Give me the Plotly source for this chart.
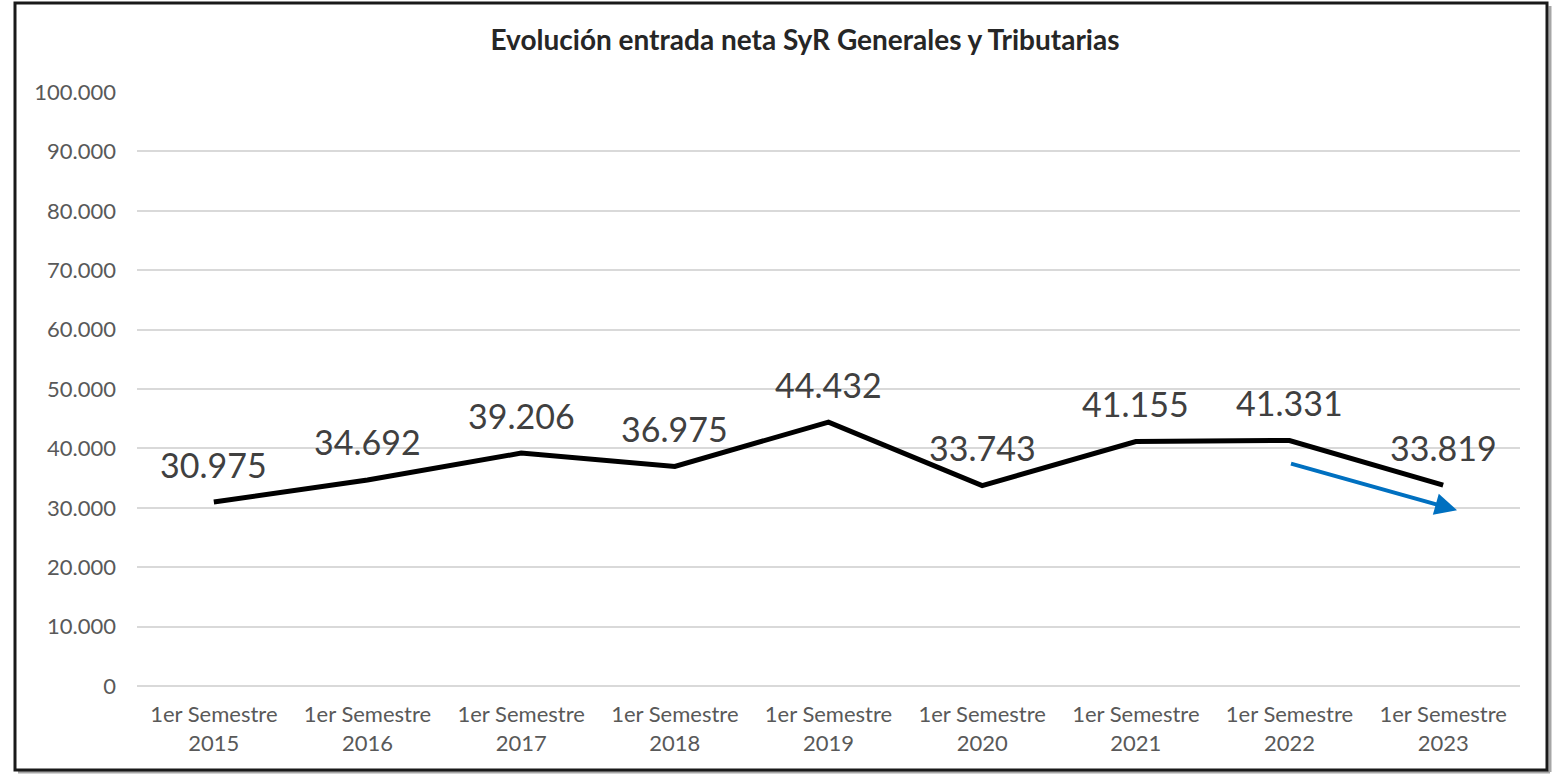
import plotly.graph_objects as go

# Datos
semestres = ["1er Semestre<br>2015", "1er Semestre<br>2016", "1er Semestre<br>2017",
             "1er Semestre<br>2018", "1er Semestre<br>2019", "1er Semestre<br>2020",
             "1er Semestre<br>2021", "1er Semestre<br>2022", "1er Semestre<br>2023"]
entrada_neta = [30975, 34692, 39206, 36975, 44432, 33743, 41155, 41331, 33819]
y_ticks = [0, 10000, 20000, 30000, 40000, 50000, 60000, 70000, 80000, 90000, 100000]

# Flecha de tendencia (coordenadas de eje)
flecha_inicio = (7.0, 37500)
flecha_fin = (8.09, 29600)

W, H = 1554, 774
ml, mr, mt, mb = 137, 34, 92, 88
pw, ph = W - ml - mr, H - mt - mb


def px_x(p):
    return (p - ml) / pw


def px_y(p):
    return (H - mb - p) / ph


fig = go.Figure()

fig.add_trace(go.Scatter(
    x=list(range(len(semestres))),
    y=entrada_neta,
    mode="lines",
    line=dict(color="black", width=5),
    hoverinfo="skip",
    showlegend=False,
))

# Etiquetas de datos
for i, v in enumerate(entrada_neta):
    fig.add_annotation(
        x=i, y=v, text=f"{v:,}".replace(",", "."),
        showarrow=False, yshift=38,
        font=dict(family="Lato", size=34, color="#404040"),
    )

# Flecha azul
fig.add_annotation(
    x=flecha_fin[0], y=flecha_fin[1],
    ax=flecha_inicio[0], ay=flecha_inicio[1],
    xref="x", yref="y", axref="x", ayref="y",
    text="", showarrow=True,
    arrowhead=2, arrowsize=1.1, arrowwidth=4, arrowcolor="#0070C0",
)

# Marco del gráfico
fig.add_shape(type="line", xref="paper", yref="paper",
              x0=px_x(1550), x1=px_x(1550), y0=px_y(6), y1=px_y(772),
              line=dict(color="#A6A6A6", width=3))
fig.add_shape(type="line", xref="paper", yref="paper",
              x0=px_x(18), x1=px_x(1550), y0=px_y(772), y1=px_y(772),
              line=dict(color="#A6A6A6", width=3))
fig.add_shape(type="rect", xref="paper", yref="paper",
              x0=px_x(15), x1=px_x(1547), y0=px_y(3), y1=px_y(770),
              line=dict(color="#1A1A1A", width=3))

fig.update_layout(
    width=W, height=H,
    margin=dict(l=ml, r=mr, t=mt, b=mb),
    paper_bgcolor="white", plot_bgcolor="white",
    separators=",.",
    title=dict(text="<b>Evolución entrada neta SyR Generales y Tributarias</b>",
               x=805 / W, xanchor="center", y=1 - 40 / H, yanchor="middle",
               font=dict(family="Lato", size=28, color="#262626")),
    xaxis=dict(
        tickmode="array", tickvals=list(range(len(semestres))), ticktext=semestres,
        range=[-0.5, len(semestres) - 0.5],
        showgrid=False, zeroline=False, showline=False,
        ticks="", ticklabelstandoff=13,
        tickfont=dict(family="Lato", size=22, color="#595959"),
    ),
    yaxis=dict(
        range=[0, 100000], tickvals=y_ticks, tickformat=",d",
        showgrid=True, gridcolor="#D9D9D9", gridwidth=1.5,
        zeroline=True, zerolinecolor="#D9D9D9", zerolinewidth=1.5,
        showline=False, ticks="", ticklabelstandoff=20,
        tickfont=dict(family="Lato", size=22, color="#595959"),
    ),
)

# sin margen del body, para que la figura ocupe la ventana exacta
fig.write_html("out.html", config={"displayModeBar": False},
               post_script="document.body.style.margin='0';")
